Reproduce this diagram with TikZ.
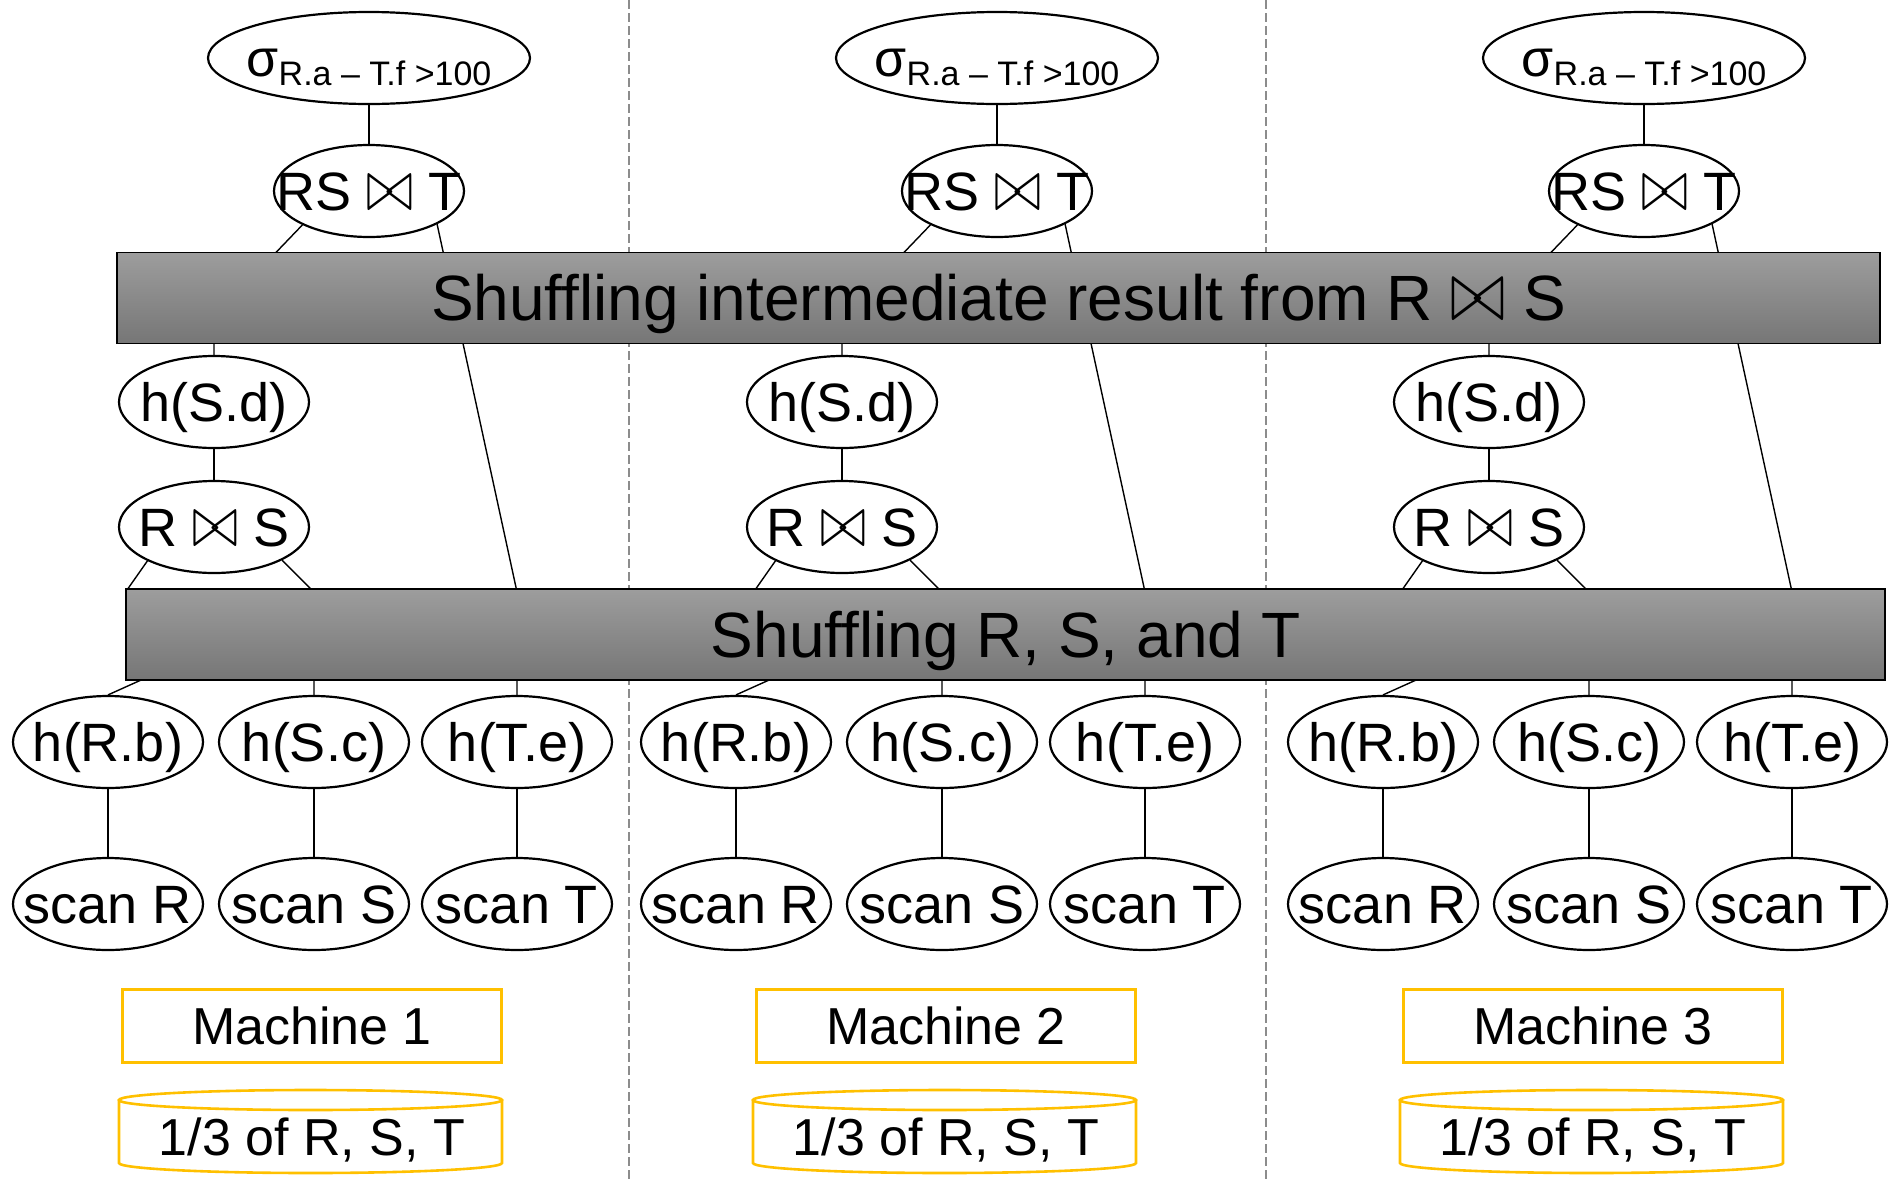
\documentclass[tikz,border=0pt]{standalone}
\usepackage{fix-cm}
\usepackage{fontspec}
\setmainfont{Liberation Sans}
\usetikzlibrary{shapes.geometric}
\definecolor{barlight}{HTML}{9D9D9D}
\definecolor{bardark}{HTML}{767676}
\definecolor{amber}{HTML}{FFC000}
\definecolor{divgray}{HTML}{8C8C8C}
\newcommand{\optext}[1]{\makebox[0pt]{\rule{0pt}{0.716em}\smash{#1}}}
\newcommand{\bowjoin}{\scalebox{1.05}[1.37]{$\bowtie$}}

\begin{document}
\begin{tikzpicture}[x=0.5pt,y=-0.5pt,
 every node/.style={font=\fontsize{26}{30}\selectfont},
 op/.style={ellipse,draw,line width=1.1pt,fill=white,inner sep=0pt,minimum width=95pt,minimum height=46pt,
   font=\fontsize{27}{31}\selectfont},
 wire/.style={line width=0.7pt},
 shuffle/.style={draw,line width=0.7pt,top color=barlight,bottom color=bardark,inner sep=0pt,
   text height=22.9pt,text depth=0pt,minimum height=45.5pt,font=\fontsize{32}{36}\selectfont},
 machine/.style={draw=amber,line width=1.3pt,minimum width=189.5pt,minimum height=36.5pt,inner sep=0pt},
 disk/.style={draw=amber,line width=1.3pt},
 divider/.style={divgray,line width=0.8pt,dash pattern=on 4.5pt off 2pt}]
\useasboundingbox (0,0) rectangle (1896,1179);
% machine borders
\draw[divider] (629,0) -- (629,1179);
\draw[divider] (1266,0) -- (1266,1179);
% one plan per machine
\foreach \c/\dx/\mx in {1/0/0,2/628/634,3/1275/1281}{
 \node[op,minimum width=161pt,font=\fontsize{26}{30}\selectfont] (sig\c) at (\dx+369,58)
   {\optext{σ\raisebox{-4.5pt}{\fontsize{17}{20}\selectfont R.a – T.f >100}}};
 \node[op] (RSj\c) at (\dx+369,191) {\optext{RS \bowjoin{} T}};
 \node[op] (hSd\c) at (\dx+214,402) {\optext{h(S.d)}};
 \node[op] (RxS\c) at (\dx+214,527) {\optext{R \bowjoin{} S}};
 \node[op] (hRb\c) at (\dx+108,742) {\optext{h(R.b)}};
 \node[op] (hSc\c) at (\dx+314,742) {\optext{h(S.c)}};
 \node[op] (hTe\c) at (\dx+517,742) {\optext{h(T.e)}};
 \node[op] (scR\c) at (\dx+108,904) {\optext{scan R}};
 \node[op] (scS\c) at (\dx+314,904) {\optext{scan S}};
 \node[op] (scT\c) at (\dx+517,904) {\optext{scan T}};
 \node[machine] (mach\c) at (\mx+312,1026) {Machine \c};
 \draw[disk] (\mx+310.5,1100) ellipse[x radius=191.5,y radius=10]
   (\mx+119,1100) -- (\mx+119,1163) arc[start angle=180,end angle=0,x radius=191.5,y radius=10] -- (\mx+502,1100);
 \node[anchor=base] (db\c) at (\mx+312,1155) {1/3 of R, S, T};
 % edges, partly hidden by the shuffle bars
 \draw[wire] (sig\c) -- (RSj\c);
 \draw[wire] (RSj\c.207) -- (\dx+214,317) -- (hSd\c);
 \draw[wire] (RSj\c.-26) -- (\dx+517,592) -- (hTe\c);
 \draw[wire] (hSd\c) -- (RxS\c);
 \draw[wire] (RxS\c.207) -- (\dx+127,590) -- (\dx+150,676) -- (hRb\c.north);
 \draw[wire] (RxS\c.-26) -- (\dx+314,592) -- (hSc\c);
 \draw[wire] (hRb\c) -- (scR\c);
 \draw[wire] (hSc\c) -- (scS\c);
 \draw[wire] (hTe\c) -- (scT\c);
}
\node[shuffle,minimum width=881.5pt] (shufRS) at (998.5,298) {Shuffling intermediate result from R \bowjoin{} S};
\node[shuffle,minimum width=879.5pt] (shufRST) at (1005.5,634.5) {Shuffling R, S, and T};
\end{tikzpicture}
\end{document}
